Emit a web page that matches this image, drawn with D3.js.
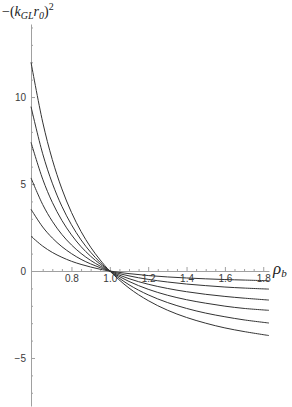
<!DOCTYPE html>
<html>
<head>
<meta charset="utf-8">
<script src="https://cdn.jsdelivr.net/npm/d3@7"></script>
<style>
  body { margin: 0; background: #fff; }
  svg { display: block; }
</style>
</head>
<body>
<svg class="chart" width="292" height="407"></svg>
<script>
// rho_b sample points and the six curves
var rhoB = [0.589, 0.65, 0.7, 0.75, 0.8, 0.85, 0.9, 0.95, 1.0, 1.1, 1.2, 1.3, 1.4, 1.5, 1.6, 1.7, 1.83];

var curve1 = [12.0, 8.56, 6.41, 4.72, 3.37, 2.27, 1.37, 0.63, 0, -0.98, -1.70, -2.25, -2.67, -3.00, -3.27, -3.48, -3.71];
var curve2 = [9.45, 6.74, 5.05, 3.72, 2.66, 1.79, 1.08, 0.49, 0, -0.79, -1.37, -1.81, -2.15, -2.42, -2.63, -2.81, -2.99];
var curve3 = [7.40, 5.28, 3.95, 2.91, 2.08, 1.40, 0.85, 0.39, 0, -0.60, -1.05, -1.39, -1.65, -1.85, -2.02, -2.15, -2.26];
var curve4 = [5.35, 3.82, 2.86, 2.10, 1.50, 1.01, 0.61, 0.28, 0, -0.44, -0.76, -1.00, -1.19, -1.34, -1.46, -1.56, -1.67];
var curve5 = [3.55, 2.53, 1.90, 1.40, 1.00, 0.67, 0.41, 0.19, 0, -0.28, -0.48, -0.63, -0.75, -0.84, -0.92, -0.98, -1.04];
var curve6 = [2.00, 1.43, 1.07, 0.79, 0.56, 0.38, 0.23, 0.10, 0, -0.15, -0.26, -0.34, -0.40, -0.45, -0.49, -0.52, -0.56];

var xTicks = [0.8, 1.0, 1.2, 1.4, 1.6, 1.8];
var yTicks = [-5, 0, 5, 10];

var series = [curve1, curve2, curve3, curve4, curve5, curve6];

var svg = d3.select(".chart");

var x = d3.scaleLinear()
    .domain([0.589, 1.83])
    .range([31, 269]);

var y = d3.scaleLinear()
    .domain([-7.76, 14.2])
    .range([406, 24]);

var axisColor = "#a0a0a0";
var textColor = "#3a3a3a";

// minor ticks
var xMinor = d3.range(0.6, 1.831, 0.05).filter(function(d) { return Math.abs(d * 5 - Math.round(d * 5)) > 1e-6; });
var yMinor = d3.range(-7, 15, 1).filter(function(d) { return d % 5 !== 0; });

svg.append("g")
    .attr("transform", "translate(0," + y(0) + ")")
    .call(d3.axisBottom(x).tickValues(xMinor).tickSize(-2).tickSizeOuter(0).tickFormat(""))
    .call(function(g) { g.select(".domain").remove(); })
    .selectAll("line").attr("stroke", axisColor);

svg.append("g")
    .attr("transform", "translate(" + x(0.589) + ",0)")
    .call(d3.axisLeft(y).tickValues(yMinor).tickSize(-2).tickSizeOuter(0).tickFormat(""))
    .call(function(g) { g.select(".domain").remove(); })
    .selectAll("line").attr("stroke", axisColor);

// major axes
var gx = svg.append("g")
    .attr("transform", "translate(0," + y(0) + ")")
    .call(d3.axisBottom(x).tickValues(xTicks).tickSize(-4).tickSizeOuter(0).tickPadding(4)
      .tickFormat(d3.format(".1f")));

var gy = svg.append("g")
    .attr("transform", "translate(" + x(0.589) + ",0)")
    .call(d3.axisLeft(y).tickValues(yTicks).tickSize(-4).tickSizeOuter(0).tickPadding(5));

[gx, gy].forEach(function(g) {
  g.select(".domain").attr("stroke", axisColor);
  g.selectAll(".tick line").attr("stroke", axisColor);
  g.selectAll(".tick text")
      .attr("fill", textColor)
      .style("font-family", "'Liberation Sans', Arial, sans-serif")
      .style("font-size", "10px");
});

var line = d3.line()
    .x(function(d, i) { return x(rhoB[i]); })
    .y(function(d) { return y(d); })
    .curve(d3.curveCatmullRom);

svg.append("g")
  .selectAll("path")
  .data(series)
  .enter().append("path")
    .attr("fill", "none")
    .attr("stroke", "#333")
    .attr("stroke-width", 1)
    .attr("d", line);

// axis labels
var yLab = svg.append("text")
    .attr("x", 2)
    .attr("y", 16)
    .attr("fill", "#222")
    .style("font-family", "'Liberation Serif', 'Times New Roman', serif")
    .style("font-size", "14px");
yLab.append("tspan").text("−(");
yLab.append("tspan").style("font-style", "italic").text("k");
yLab.append("tspan").style("font-style", "italic").style("font-size", "10px").attr("dy", 3).text("GL");
yLab.append("tspan").style("font-style", "italic").attr("dy", -3).text("r");
yLab.append("tspan").style("font-style", "italic").style("font-size", "10px").attr("dy", 3).text("0");
yLab.append("tspan").attr("dy", -3).text(")");
yLab.append("tspan").style("font-size", "10px").attr("dy", -6).text("2");

var xLab = svg.append("text")
    .attr("x", 273)
    .attr("y", y(0) + 3)
    .attr("fill", "#222")
    .style("font-family", "'Liberation Serif', 'Times New Roman', serif")
    .style("font-style", "italic")
    .style("font-size", "17px");
xLab.append("tspan").text("ρ");
xLab.append("tspan").style("font-size", "11px").attr("dy", 3).text("b");
</script>
</body>
</html>
